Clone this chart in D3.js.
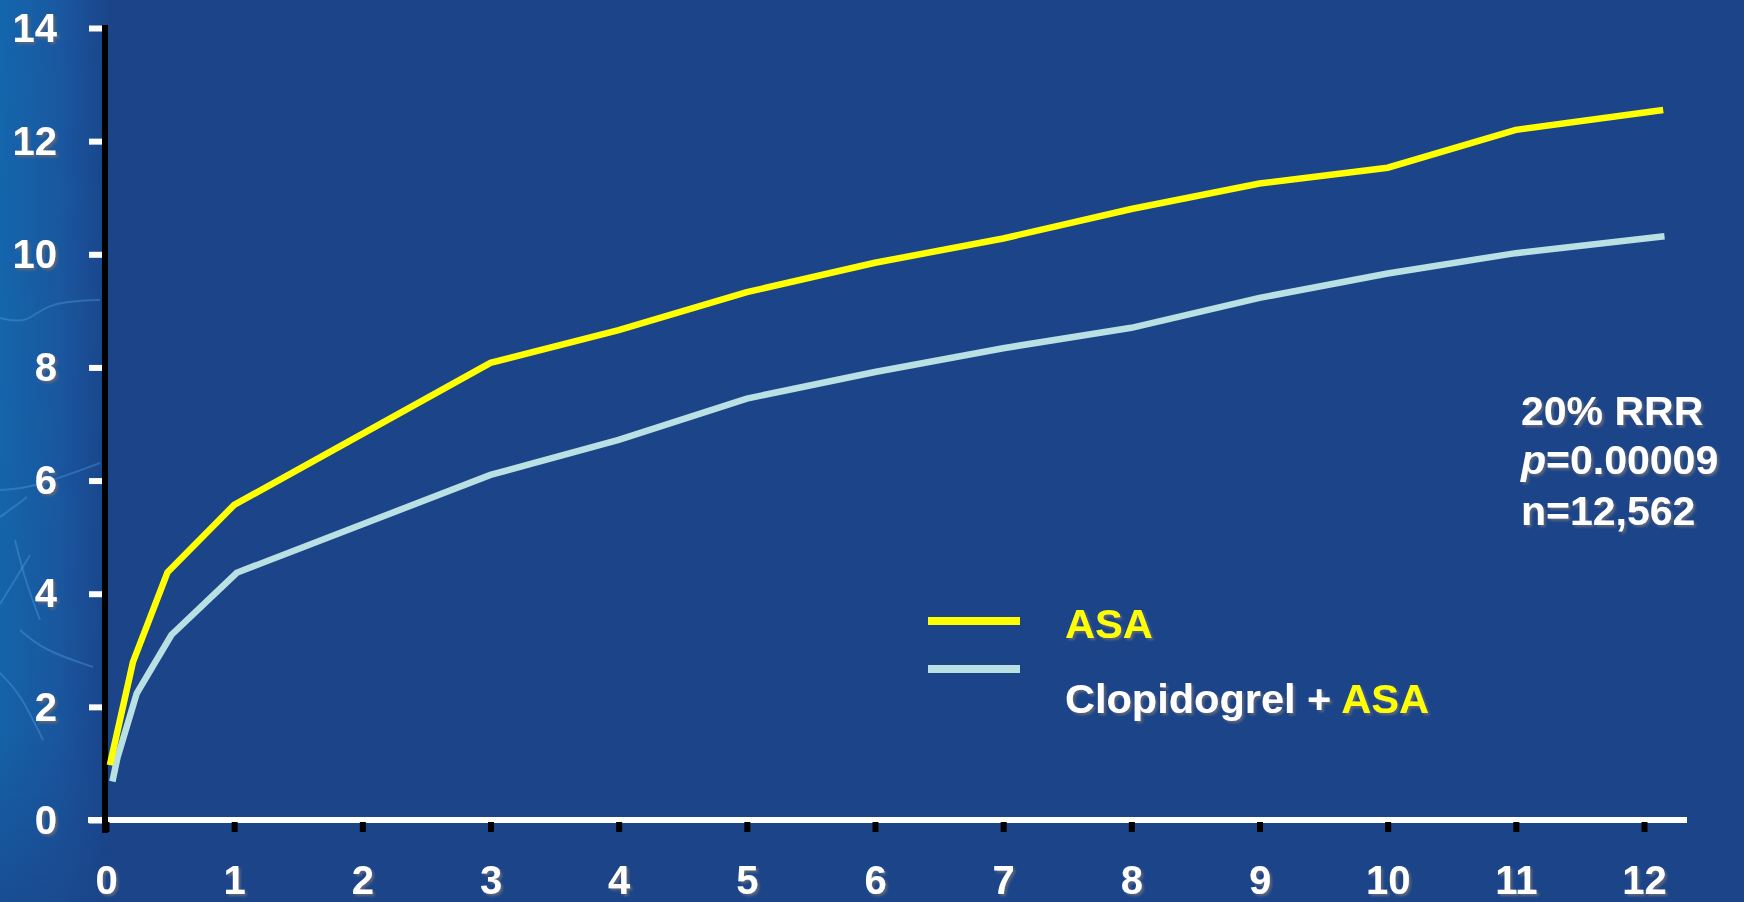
<!DOCTYPE html>
<html>
<head>
<meta charset="utf-8">
<script src="https://cdn.jsdelivr.net/npm/d3@7/dist/d3.min.js"></script>
<style>
  html, body { margin: 0; padding: 0; background: #1b4489; }
  svg { display: block; }
  text { font-family: "Liberation Sans", Arial, Helvetica, sans-serif; font-weight: bold; }
</style>
</head>
<body>
<svg id="chart" width="1744" height="902"></svg>
<script>
// Follow-up time in months and cumulative event rate (%) for each arm
const monthsASA = [0.03, 0.21, 0.48, 1, 3, 4, 5, 6, 7, 8, 9, 10, 11, 12.15];
const rateASA   = [0.97, 2.79, 4.38, 5.57, 8.08, 8.66, 9.33, 9.85, 10.28, 10.8, 11.25, 11.53, 12.2, 12.55];

const monthsClop = [0.05, 0.09, 0.24, 0.51, 1.02, 3, 4, 5, 6, 7, 8, 9, 10, 11, 12.16];
const rateClop   = [0.68, 1.11, 2.24, 3.27, 4.37, 6.1, 6.72, 7.45, 7.92, 8.34, 8.7, 9.23, 9.66, 10.02, 10.32];

const xTicks = [0, 1, 2, 3, 4, 5, 6, 7, 8, 9, 10, 11, 12];
const yTicks = [0, 2, 4, 6, 8, 10, 12, 14];

const legendLabels = ["ASA", "Clopidogrel + ASA"];
const statsLines = ["20% RRR", "p=0.00009", "n=12,562"];

const W = 1744, H = 902;
const bg = "#1b4489";
const yellow = "#ffff00";
const pale = "#b9e0e3";

const svg = d3.select("#chart");
const defs = svg.append("defs");

// soft grey drop shadow used under all lettering
const sh = defs.append("filter").attr("id", "txtShadow")
  .attr("x", "-10%").attr("y", "-20%").attr("width", "130%").attr("height", "150%");
sh.append("feDropShadow").attr("dx", 2.2).attr("dy", 2.2).attr("stdDeviation", 1.1)
  .attr("flood-color", "#5d6678").attr("flood-opacity", 0.95);

// lighter textured strip down the left edge
const lg = defs.append("linearGradient").attr("id", "edge").attr("x1", 0).attr("x2", 1).attr("y1", 0).attr("y2", 0);
lg.append("stop").attr("offset", "0%").attr("stop-color", "#1467ad");
lg.append("stop").attr("offset", "55%").attr("stop-color", "#1a58a0");
lg.append("stop").attr("offset", "100%").attr("stop-color", bg);
const vg = defs.append("linearGradient").attr("id", "edgeFade").attr("x1", 0).attr("x2", 0).attr("y1", 0).attr("y2", 1);
vg.append("stop").attr("offset", "0%").attr("stop-color", "#fff").attr("stop-opacity", 1);
vg.append("stop").attr("offset", "80%").attr("stop-color", "#fff").attr("stop-opacity", 0.9);
vg.append("stop").attr("offset", "100%").attr("stop-color", "#fff").attr("stop-opacity", 0.3);
const mask = defs.append("mask").attr("id", "edgeMask");
mask.append("rect").attr("width", 110).attr("height", H).attr("fill", "url(#edgeFade)");

svg.append("rect").attr("width", W).attr("height", H).attr("fill", bg);
svg.append("rect").attr("width", 110).attr("height", H).attr("fill", "url(#edge)").attr("mask", "url(#edgeMask)");

// faint vein-like strokes in the edge strip
const veins = [
  [[0, 318], [27, 324], [47, 302], [100, 300]],
  [[0, 490], [33, 488], [100, 463]],
  [[0, 517], [14, 507], [27, 497]],
  [[0, 604], [15, 580], [30, 555]],
  [[20, 630], [43, 650], [93, 667]],
  [[0, 673], [20, 693], [43, 740]],
  [[15, 540], [25, 580], [40, 620]]
];
svg.append("g").selectAll("path").data(veins).join("path")
  .attr("d", d3.line().curve(d3.curveBasis))
  .attr("fill", "none").attr("stroke", "#5aa6e0").attr("stroke-width", 2)
  .attr("stroke-opacity", 0.35);

const x = d3.scaleLinear().domain([0, 12]).range([106, 1644]);
const y = d3.scaleLinear().domain([0, 14]).range([820, 28]);

// horizontal baseline (white)
svg.append("line")
  .attr("x1", x(0) - 18).attr("x2", 1687)
  .attr("y1", y(0)).attr("y2", y(0))
  .attr("stroke", "#ffffff").attr("stroke-width", 6);

// y axis ticks and labels
const yAxis = svg.append("g").attr("transform", `translate(${x(0) - 1},0)`)
  .call(d3.axisLeft(y).tickValues(yTicks).tickSize(16).tickPadding(32).tickFormat(d3.format("d")));
yAxis.select(".domain").remove();
yAxis.selectAll(".tick line").attr("stroke", "#ffffff").attr("stroke-width", 6);
yAxis.selectAll(".tick text")
  .attr("fill", "#ffffff").attr("font-size", 40).attr("dy", "0.33em")
  .attr("filter", "url(#txtShadow)");
yAxis.attr("font-family", null).attr("font-size", null);

// x axis ticks and labels
const xAxis = svg.append("g").attr("transform", `translate(0,${y(0) + 2})`)
  .call(d3.axisBottom(x).tickValues(xTicks).tickSize(10).tickPadding(34).tickFormat(d3.format("d")));
xAxis.select(".domain").remove();
xAxis.selectAll(".tick line").attr("stroke", "#000000").attr("stroke-width", 6);
xAxis.selectAll(".tick text")
  .attr("fill", "#ffffff").attr("font-size", 40)
  .attr("filter", "url(#txtShadow)");
xAxis.attr("font-family", null).attr("font-size", null);

// vertical axis line (black)
svg.append("line")
  .attr("x1", x(0) - 1).attr("x2", x(0) - 1)
  .attr("y1", y(14) - 3).attr("y2", y(0) + 13)
  .attr("stroke", "#000000").attr("stroke-width", 6);

// curves
const line = d3.line().x(d => x(d[0])).y(d => y(d[1]));
const series = [
  { pts: d3.zip(monthsClop, rateClop), color: pale },
  { pts: d3.zip(monthsASA, rateASA), color: yellow }
];
svg.append("g").selectAll("path").data(series).join("path")
  .attr("d", d => line(d.pts))
  .attr("fill", "none").attr("stroke", d => d.color)
  .attr("stroke-width", 6.5).attr("stroke-linejoin", "miter");

// legend
const legend = svg.append("g");
const legendRows = [
  { y: 621, color: yellow, ty: 638 },
  { y: 669, color: pale, ty: 713 }
];
legend.selectAll("line").data(legendRows).join("line")
  .attr("x1", 928).attr("x2", 1020)
  .attr("y1", d => d.y).attr("y2", d => d.y)
  .attr("stroke", d => d.color).attr("stroke-width", 8);

legend.append("text").attr("x", 1065).attr("y", legendRows[0].ty)
  .attr("font-size", 41.5).attr("fill", yellow).attr("filter", "url(#txtShadow)")
  .text(legendLabels[0]);
const t2 = legend.append("text").attr("x", 1065).attr("y", legendRows[1].ty)
  .attr("font-size", 41.5).attr("fill", "#ffffff").attr("filter", "url(#txtShadow)");
t2.append("tspan").text("Clopidogrel + ");
t2.append("tspan").attr("fill", yellow).text("ASA");

// trial statistics
const stats = svg.append("g").attr("fill", "#ffffff").attr("font-size", 41).attr("filter", "url(#txtShadow)");
stats.append("text").attr("x", 1521).attr("y", 425).text(statsLines[0]);
const pLine = stats.append("text").attr("x", 1521).attr("y", 474);
pLine.append("tspan").attr("font-style", "italic").text("p");
pLine.append("tspan").text(statsLines[1].slice(1));
stats.append("text").attr("x", 1521).attr("y", 525).text(statsLines[2]);
</script>
</body>
</html>
